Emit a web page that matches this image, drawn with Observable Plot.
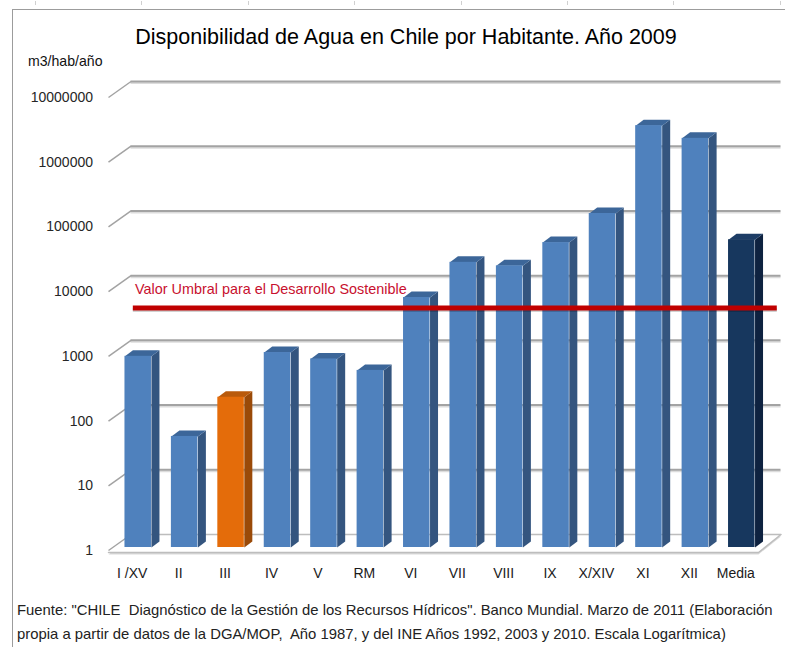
<!DOCTYPE html>
<html>
<head>
<meta charset="utf-8">
<script src="https://cdn.jsdelivr.net/npm/d3@7"></script>
<script src="https://cdn.jsdelivr.net/npm/@observablehq/plot@0.6"></script>
<style>
  body { margin: 0; background: #fff; }
  #page { position: relative; width: 798px; height: 647px; overflow: hidden; font-family: "Liberation Sans", Arial, sans-serif; }
  #frame { position: absolute; left: 12px; top: 9px; width: 772px; height: 660px; border-left: 1px solid #9c9c9c; border-top: 1px solid #9c9c9c; }
  .ruler { position: absolute; top: 1px; width: 1px; height: 4px; background: #d0d0d0; }
  #chart { position: absolute; left: 0; top: 0; }
  #title { position: absolute; left: 0; width: 812px; top: 25px; text-align: center; font-size: 21.5px; color: #000; white-space: nowrap; }
  #unit { position: absolute; left: 28px; top: 52px; font-size: 15px; color: #111; transform: scaleX(0.94); transform-origin: left top; }
  #source { position: absolute; left: 17px; top: 598px; font-size: 15px; line-height: 24px; color: #222; white-space: nowrap; transform: scaleX(0.99); transform-origin: left top; }
</style>
</head>
<body>
<div id="page">
  <div id="frame"></div>
  <div id="title">Disponibilidad de Agua en Chile por Habitante. Año 2009</div>
  <div id="unit">m3/hab/año</div>
  <div id="chart"></div>
  <div id="source">Fuente: "CHILE&nbsp; Diagnóstico de la Gestión de los Recursos Hídricos". Banco Mundial. Marzo de 2011 (Elaboración<br>propia a partir de datos de la DGA/MOP,&nbsp; Año 1987, y del INE Años 1992, 2003 y 2010. Escala Logarítmica)</div>
</div>
<script>
// Regions of Chile and the national mean (m3 per inhabitant per year, 2009)
const categories = ["I /XV", "II", "III", "IV", "V", "RM", "VI", "VII", "VIII", "IX", "X/XIV", "XI", "XII", "Media"];
const values = [900, 52, 210, 1030, 820, 545, 7300, 25500, 22500, 51500, 145000, 3300000, 2100000, 57000];
// Sustainable development threshold
const threshold = 5000;
const thresholdLabel = "Valor Umbral para el Desarrollo Sostenible";
// Log axis ticks
const yTicks = [1, 10, 100, 1000, 10000, 100000, 1000000, 10000000];

// small ruler marks along the top of the frame
for (let i = 0; i < 8; i++) {
  const m = document.createElement("div");
  m.className = "ruler";
  m.style.left = (35 + i * 106.4).toFixed(1) + "px";
  document.getElementById("page").appendChild(m);
}

// plot geometry (front plane of the bars)
const W = 798, H = 600;
const plotLeft = 114.5, plotRight = 764.5, plotBase = 547, plotTop = 94;
const xDomain = [-0.5, categories.length - 0.5];
const pxX = (xDomain[1] - xDomain[0]) / (plotRight - plotLeft); // x units per pixel
const decadePx = (plotBase - plotTop) / 7;                        // pixels per decade
// move a data point by a pixel offset (px right, py down)
const shift = (x, y, px, py) => [x + px * pxX, y * Math.pow(10, -py / decadePx)];

const halfW = 13.25 * pxX;
const depth = [8, -6];       // bar depth offset in pixels
const back = [16, -13];      // back wall offset in pixels
const front = [-6.5, 5];     // floor front edge offset

const palette = (c) => c === "III" ? {front: "#e46c0a", side: "#9a4a08", top: "#b95a0b"}
  : c === "Media" ? {front: "#17375e", side: "#0e2240", top: "#1d3d66"}
  : {front: "#4f81bd", side: "#34557f", top: "#3c6699"};

const bars = categories.map((c, i) => ({category: c, i, value: values[i], x1: i - halfW, x2: i + halfW, ...palette(c)}));

// side and top faces as polygons
const faces = [];
bars.forEach((b) => {
  const side = [[b.x2, 1], [b.x2, b.value], shift(b.x2, b.value, ...depth), shift(b.x2, 1, ...depth)];
  side.forEach(([x, y]) => faces.push({x, y, key: b.category + "-side", fill: b.side}));
  const topF = [[b.x1, b.value], [b.x2, b.value], shift(b.x2, b.value, ...depth), shift(b.x1, b.value, ...depth)];
  topF.forEach(([x, y]) => faces.push({x, y, key: b.category + "-top", fill: b.top}));
});

// floor parallelogram
const floor = [
  shift(xDomain[0], 1, ...front), shift(xDomain[1], 1, ...front),
  shift(xDomain[1], 1, ...back), shift(xDomain[0], 1, ...back)
].map(([x, y]) => ({x, y}));

// slanted ticks from the labels to the back wall
const tickLinks = yTicks.map((v) => {
  const [x1, y1] = shift(xDomain[0], v, -6.5, 3);
  const [x2, y2] = shift(xDomain[0], v, ...back);
  return {x1, y1, x2, y2, v};
});

const sans = '"Liberation Sans", Arial, sans-serif';

const chart = Plot.plot({
  width: W,
  height: H,
  marginLeft: plotLeft,
  marginRight: W - plotRight,
  marginTop: plotTop,
  marginBottom: H - plotBase,
  x: {type: "linear", domain: xDomain, axis: null},
  y: {type: "log", domain: [1, 1e7], axis: null},
  style: {background: "transparent", overflow: "visible"},
  marks: [
    // floor
    Plot.line(floor, {x: "x", y: "y", fill: "#d9d9d9", stroke: "none", dy: 2}),
    Plot.line(floor, {x: "x", y: "y", fill: "#ffffff", stroke: "#bdbdbd", strokeWidth: 1.5}),
    // back wall gridlines
    Plot.ruleY(yTicks.slice(1), {x1: xDomain[0], x2: xDomain[1], dx: back[0], dy: back[1] + 1.5, stroke: "#dcdcdc", strokeWidth: 2}),
    Plot.ruleY(yTicks.slice(1), {x1: xDomain[0], x2: xDomain[1], dx: back[0], dy: back[1], stroke: "#a3a3a3", strokeWidth: 2}),
    // axis tick slants
    Plot.link(tickLinks, {x1: "x1", y1: "y1", x2: "x2", y2: "y2", stroke: "#a3a3a3", strokeWidth: 1.5}),
    // bars
    Plot.line(faces, {x: "x", y: "y", z: "key", fill: "fill", stroke: "none"}),
    Plot.rectY(bars, {x1: "x1", x2: "x2", y1: 1, y2: "value", fill: "front"}),
    // threshold line
    Plot.ruleY([threshold], {x1: -0.45, x2: 13.42, dx: back[0], dy: 2, stroke: "#000", strokeOpacity: 0.18, strokeWidth: 4}),
    Plot.ruleY([threshold], {x1: -0.45, x2: 13.42, dx: back[0], stroke: "#c00000", strokeWidth: 5}),
    Plot.text([thresholdLabel], {x: xDomain[0], y: threshold, dx: 20, dy: -19, text: (d) => d, textAnchor: "start", fill: "#c8102e", fontSize: 14.4, fontFamily: sans}),
    // axis labels
    Plot.text(yTicks, {x: xDomain[0], y: (d) => d, dx: -22, dy: 3, text: (d) => String(d), textAnchor: "end", fill: "#262626", fontSize: 14, fontFamily: sans}),
    Plot.text(bars, {x: "i", y: 1, dx: -6, dy: 26, text: "category", fill: "#1a1a1a", fontSize: 14, fontFamily: sans})
  ]
});
document.getElementById("chart").appendChild(chart);
</script>
</body>
</html>
